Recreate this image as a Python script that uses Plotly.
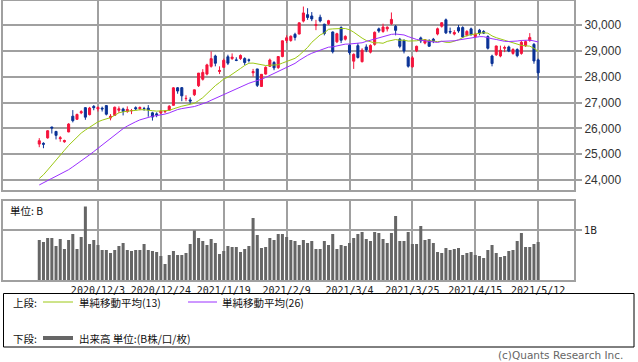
import plotly.graph_objects as go

dates = ["2020/11/12","2020/11/13","2020/11/16","2020/11/17","2020/11/18","2020/11/19","2020/11/20","2020/11/24","2020/11/25","2020/11/26",
         "2020/11/27","2020/11/30","2020/12/1","2020/12/2","2020/12/3","2020/12/4","2020/12/7","2020/12/8","2020/12/9","2020/12/10",
         "2020/12/11","2020/12/14","2020/12/15","2020/12/16","2020/12/17","2020/12/18","2020/12/21","2020/12/22","2020/12/23","2020/12/24",
         "2020/12/25","2020/12/28","2020/12/29","2020/12/30","2021/1/4","2021/1/5","2021/1/6","2021/1/7","2021/1/8","2021/1/12",
         "2021/1/13","2021/1/14","2021/1/15","2021/1/18","2021/1/19","2021/1/20","2021/1/21","2021/1/22","2021/1/25","2021/1/26",
         "2021/1/27","2021/1/28","2021/1/29","2021/2/1","2021/2/2","2021/2/3","2021/2/4","2021/2/5","2021/2/8","2021/2/9",
         "2021/2/10","2021/2/12","2021/2/15","2021/2/16","2021/2/17","2021/2/18","2021/2/19","2021/2/22","2021/2/24","2021/2/25",
         "2021/2/26","2021/3/1","2021/3/2","2021/3/3","2021/3/4","2021/3/5","2021/3/8","2021/3/9","2021/3/10","2021/3/11",
         "2021/3/12","2021/3/15","2021/3/16","2021/3/17","2021/3/18","2021/3/19","2021/3/22","2021/3/23","2021/3/24","2021/3/25",
         "2021/3/26","2021/3/29","2021/3/30","2021/3/31","2021/4/1","2021/4/2","2021/4/5","2021/4/6","2021/4/7","2021/4/8",
         "2021/4/9","2021/4/12","2021/4/13","2021/4/14","2021/4/15","2021/4/16","2021/4/19","2021/4/20","2021/4/21","2021/4/22",
         "2021/4/23","2021/4/26","2021/4/27","2021/4/28","2021/4/30","2021/5/6","2021/5/7","2021/5/10","2021/5/11","2021/5/12"]

open_ = [25390,25420,25630,26050,25880,25600,25480,25860,26470,26350,
         26600,26800,26530,26850,26750,26780,26880,26400,26500,26700,
         26750,26650,26680,26800,26760,26770,26780,26600,26560,26600,
         26640,26700,26890,27570,27575,27150,27100,27300,27650,27900,
         28100,28400,28800,28200,28360,28770,28700,28650,28700,28700,
         28650,28150,28300,27620,28100,28400,28550,28350,28780,29400,
         29400,29640,29650,30150,30400,30350,29980,30300,30030,30050,
         29730,29350,29900,29450,29220,28600,29200,28580,29150,28950,
         29250,29850,29750,29850,30050,29950,29450,29400,28750,28380,
         29000,29500,29300,29400,29450,29650,29950,30200,29750,29650,
         29900,29900,29600,29850,29550,29800,29750,29550,28800,28850,
         28800,29100,29150,28900,29050,28900,29200,29400,29250,28650]
high = [25620,25460,25930,26060,25900,25700,25560,26200,26706,26570,
        26700,26820,26830,26900,26850,26840,26900,26550,26840,26850,
        26800,26850,26750,26850,26850,26830,26900,26640,26620,26700,
        26700,26900,27600,27600,27600,27280,27200,27500,28140,28290,
        28500,28980,28850,28400,28700,28850,28900,28750,28860,28750,
        28700,28300,28300,28100,28400,28700,28600,28800,29400,29600,
        29600,29700,30100,30714,30650,30500,30200,30400,30050,30200,
        29750,29700,29950,29600,29250,28900,29300,29100,29250,29250,
        29750,29900,30050,29950,30485,30000,29500,29450,28800,28800,
        29200,29550,29450,29450,29500,29900,30100,30250,29900,29800,
        30000,29950,29800,29900,29700,29850,29800,29600,28850,29200,
        29200,29200,29200,29100,29100,29400,29400,29685,29300,28700]
low = [25270,25230,25600,25800,25570,25480,25440,25850,26230,26330,
       26550,26330,26500,26700,26650,26650,26500,26310,26480,26600,
       26500,26600,26550,26700,26700,26680,26450,26300,26430,26560,
       26600,26680,26880,27340,27050,27050,26950,27250,27600,27850,
       28050,28350,28400,28100,28340,28450,28650,28600,28650,28450,
       28550,28000,27600,27600,28080,28380,28250,28300,28750,29300,
       29350,29400,29640,30100,30200,30150,29800,30100,29600,30000,
       28900,29300,29300,29400,28850,28300,28700,28550,28950,28900,
       29200,29700,29700,29750,30000,29600,29100,28900,28350,28350,
       28950,29300,29250,29150,29300,29600,29900,29650,29650,29600,
       29700,29500,29550,29600,29500,29600,29650,29050,28400,28800,
       28750,28950,28950,28850,28750,28850,29150,29350,28500,27880]
close = [25520,25385,25906,26014,25728,25634,25527,26165,26297,26537,
         26644,26433,26787,26800,26809,26751,26547,26467,26817,26756,
         26652,26732,26687,26757,26806,26763,26714,26436,26524,26668,
         26656,26854,27568,27444,27258,27158,27055,27490,28139,28164,
         28456,28698,28519,28242,28633,28523,28756,28631,28822,28546,
         28635,28197,27663,28091,28362,28646,28341,28779,29388,29505,
         29562,29520,30084,30467,30292,30236,30017,30156,29671,30168,
         28966,29663,29408,29559,28930,28864,28743,29027,29036,29211,
         29717,29766,29921,29914,30216,29792,29174,28995,28405,28729,
         29176,29384,29432,29178,29388,29854,30089,29696,29730,29708,
         29768,29538,29751,29620,29642,29683,29685,29100,28508,29188,
         29020,29126,28991,29053,28812,29331,29357,29518,28608,28147]
ma13 = [24057,24202,24388,24588,24773,24977,25149,25339,25507,25677,
        25816,25934,26044,26143,26252,26317,26358,26415,26506,26601,
        26638,26672,26683,26692,26721,26719,26712,26683,26666,26675,
        26690,26693,26755,26816,26857,26893,26916,26968,27074,27186,
        27341,27508,27651,27773,27910,27983,28084,28190,28318,28432,
        28520,28525,28486,28458,28432,28442,28450,28461,28527,28585,
        28657,28710,28829,28970,29131,29329,29477,29615,29694,29834,
        29849,29870,29862,29862,29817,29723,29590,29493,29401,29339,
        29305,29312,29293,29366,29409,29438,29409,29414,29378,29377,
        29389,29415,29432,29391,29362,29357,29370,29330,29325,29366,
        29426,29513,29592,29626,29646,29665,29704,29682,29578,29509,
        29457,29411,29355,29300,29245,29212,29192,29182,29100,28981]
ma26 = [23808,23883,23970,24062,24145,24224,24297,24399,24510,24620,
        24739,24846,24974,25100,25227,25353,25473,25594,25742,25875,
        25988,26089,26180,26254,26327,26382,26428,26468,26492,26517,
        26553,26599,26678,26727,26764,26788,26804,26844,26896,26949,
        27012,27087,27163,27231,27301,27369,27450,27523,27605,27674,
        27744,27799,27836,27900,27970,28046,28111,28185,28255,28334,
        28423,28514,28630,28745,28828,28907,28968,29024,29068,29142,
        29155,29199,29224,29259,29264,29276,29280,29312,29365,29408,
        29460,29503,29564,29607,29639,29650,29635,29615,29551,29484,
        29441,29408,29386,29348,29337,29325,29368,29369,29382,29388,
        29420,29446,29484,29507,29531,29549,29547,29522,29468,29440,
        29394,29368,29361,29363,29379,29402,29409,29414,29382,29343]
volume = [0.80,0.76,0.84,0.84,0.68,0.82,0.62,0.80,0.92,0.62,
          0.86,1.47,0.72,0.80,0.70,0.60,0.60,0.54,0.60,0.68,
          0.74,0.60,0.58,0.60,0.60,0.72,0.60,0.58,0.56,0.48,
          0.32,0.50,0.58,0.50,0.50,0.54,0.72,0.99,0.84,0.78,
          0.70,0.82,0.74,0.52,0.58,0.68,0.66,0.66,0.56,0.62,
          0.68,1.24,0.90,0.64,0.66,0.84,0.80,0.92,0.92,0.86,
          0.80,0.78,0.70,0.80,0.74,0.78,0.62,0.62,0.78,0.70,
          0.92,0.62,0.70,0.68,0.74,0.84,0.92,0.96,0.82,0.78,
          0.96,0.94,0.82,0.74,0.94,1.28,0.78,0.78,0.96,0.72,
          0.72,1.08,0.80,0.82,0.74,0.56,0.54,0.64,0.60,0.62,
          0.64,0.50,0.54,0.56,0.50,0.48,0.44,0.60,0.70,0.54,
          0.46,0.48,0.58,0.60,0.78,0.94,0.66,0.66,0.72,0.76]

price_ticks = [24000, 25000, 26000, 27000, 28000, 29000, 30000]
x_labels = ["2020/12/3", "2020/12/24", "2021/1/19", "2021/2/9", "2021/3/4", "2021/3/25", "2021/4/15", "2021/5/12"]

W, H = 638, 362
def px(x): return x / W
def py(y): return 1 - y / H

RED = "#f5143c"
BLUE = "#0a3296"
GREEN = "#9cc814"
PURPLE = "#9b30ff"
GRID = "#a0a0a0"

idx = list(range(len(dates)))
tickpos = [dates.index(l) for l in x_labels]

fig = go.Figure()
fig.add_trace(go.Candlestick(
    x=idx, open=open_, high=high, low=low, close=close, text=dates,
    increasing=dict(line=dict(color=RED, width=1), fillcolor=RED),
    decreasing=dict(line=dict(color=BLUE, width=1), fillcolor=BLUE),
    whiskerwidth=0, showlegend=False, xaxis="x", yaxis="y"))
fig.add_trace(go.Scatter(x=idx, y=ma13, mode="lines", line=dict(color=GREEN, width=1),
                         showlegend=False, xaxis="x", yaxis="y"))
fig.add_trace(go.Scatter(x=idx, y=ma26, mode="lines", line=dict(color=PURPLE, width=1),
                         showlegend=False, xaxis="x", yaxis="y"))
fig.add_trace(go.Bar(x=idx, y=volume, marker=dict(color="#666666", line=dict(width=0)),
                     showlegend=False, xaxis="x2", yaxis="y2"))

xr = [-8.65, 127.55]
common_x = dict(range=xr, domain=[px(3), px(574)], tickvals=tickpos, showgrid=True,
                gridcolor=GRID, gridwidth=2, showline=True, mirror=True, linecolor=GRID,
                linewidth=2, zeroline=False, rangeslider=dict(visible=False), fixedrange=True)
fig.update_layout(
    width=W, height=H, margin=dict(l=0, r=0, t=0, b=0), autosize=False,
    paper_bgcolor="white", plot_bgcolor="white", bargap=0.28,
    xaxis=dict(**common_x, anchor="y", showticklabels=False, ticks=""),
    xaxis2=dict(**common_x, anchor="y2", matches="x", ticktext=x_labels, showticklabels=True, ticks="",
                tickfont=dict(family="DejaVu Sans Mono", size=10, color="#222")),
    yaxis=dict(domain=[py(190), py(1)], range=[23613, 30929], side="right", anchor="x",
               tickvals=price_ticks, tickformat=",d", showgrid=True, gridcolor=GRID, gridwidth=2,
               showline=True, mirror=True, linecolor=GRID, linewidth=2, zeroline=False,
               ticks="outside", ticklen=6, tickwidth=2, tickcolor=GRID,
               tickfont=dict(family="Liberation Sans", size=12, color="#333")),
    yaxis2=dict(domain=[py(280), py(201)], range=[0, 1.58], side="right", anchor="x2",
                tickvals=[1], ticktext=["1B"], showgrid=True, gridcolor=GRID, gridwidth=2,
                showline=True, mirror=True, linecolor=GRID, linewidth=2, zeroline=False,
                ticks="outside", ticklen=6, tickwidth=2, tickcolor=GRID,
                tickfont=dict(family="DejaVu Sans", size=10, color="#222")),
)

JP = "Noto Sans CJK JP"
def txt(x, y, s, size=10.5, color="#111", anchor="left", fam=JP):
    fig.add_annotation(x=px(x), y=py(y), xref="paper", yref="paper", text=s, showarrow=False,
                       xanchor=anchor, yanchor="middle", font=dict(family=fam, size=size, color=color))

txt(8, 210, "単位: B")
txt(11, 302, "上段:")
txt(77, 302, "単純移動平均(13)")
txt(220, 302, "単純移動平均(26)")
txt(11, 338, "下段:")
txt(77, 338, "出来高 単位:(B株/口/枚)")
txt(625, 355, "(c)Quants Research Inc.", size=10.5, color="#666", anchor="right", fam="DejaVu Sans")

fig.add_shape(type="rect", xref="paper", yref="paper", x0=px(3.5), x1=px(634), y0=py(347), y1=py(293.5),
              line=dict(color="#000", width=1))
fig.add_shape(type="line", xref="paper", yref="paper", x0=px(43), x1=px(73), y0=py(302), y1=py(302),
              line=dict(color=GREEN, width=1))
fig.add_shape(type="line", xref="paper", yref="paper", x0=px(188), x1=px(217), y0=py(302), y1=py(302),
              line=dict(color=PURPLE, width=1))
fig.add_shape(type="line", xref="paper", yref="paper", x0=px(43), x1=px(73), y0=py(338), y1=py(338),
              line=dict(color="#666666", width=4))

fig.write_html("out.html", config={"displayModeBar": False},
               post_script="document.body.style.margin='0px';document.body.style.padding='0px';")
